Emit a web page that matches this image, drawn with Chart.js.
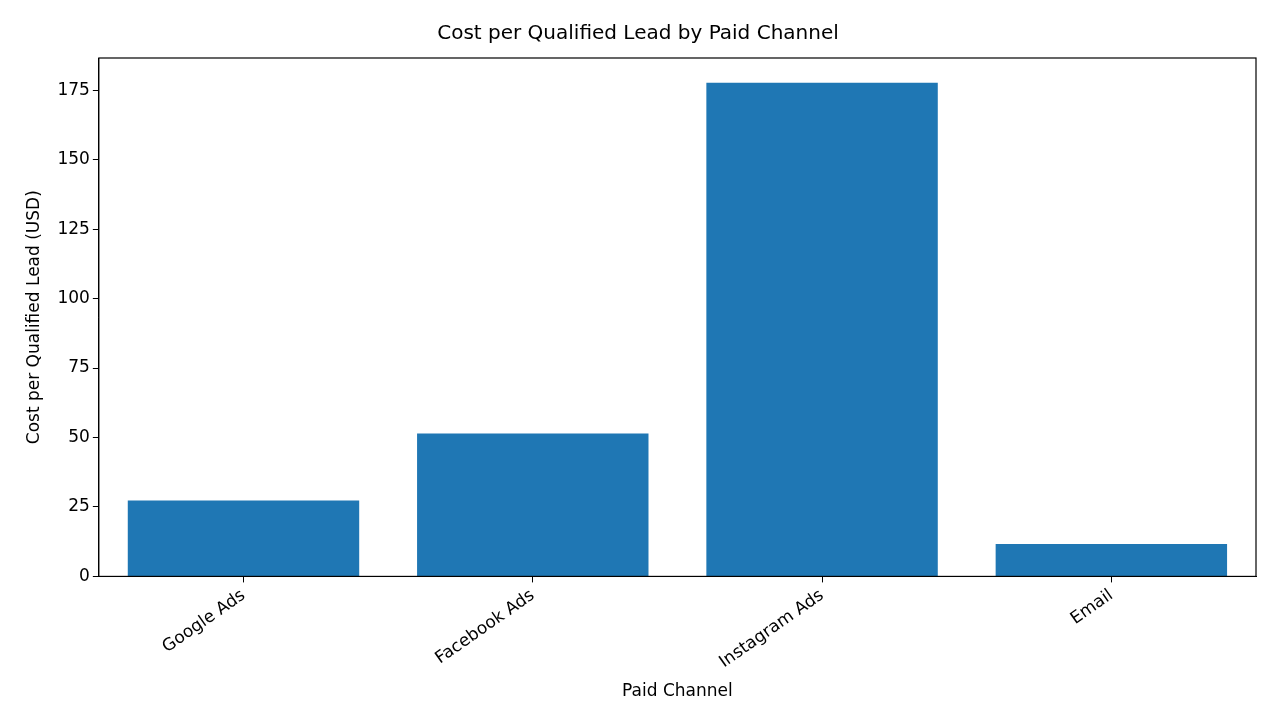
<!DOCTYPE html>
<html><head><meta charset="utf-8">
<script src="https://cdn.jsdelivr.net/npm/chart.js@4"></script>
<style>html,body{margin:0;padding:0;background:#fff}#w{width:1280px;height:720px}</style>
</head><body><div id="w"><canvas id="c" width="1280" height="720"></canvas></div>
<script>
const categories = ["Google Ads", "Facebook Ads", "Instagram Ads", "Email"];
const costPerLead = [27.3, 51.4, 177.7, 11.7];
const yTicks = [0, 25, 50, 75, 100, 125, 150, 175];

const frame = {id:'frame', afterDraw(ch){const a=ch.chartArea,c=ch.ctx;c.save();c.strokeStyle='#000';c.lineWidth=1.2;c.strokeRect(a.left,a.top,a.right-a.left,a.bottom-a.top);c.restore();}};
const font = {family:'DejaVu Sans', size:17};
new Chart(document.getElementById('c'), {
  type:'bar',
  data:{labels:categories, datasets:[{data:costPerLead, backgroundColor:'#1f77b4', borderWidth:0, barPercentage:0.8, categoryPercentage:1.0}]},
  options:{
    responsive:false, animation:false, devicePixelRatio:1,
    layout:{padding:{top:10,right:24,left:20,bottom:14}},
    plugins:{legend:{display:false}, tooltip:{enabled:false},
      title:{display:true,text:'Cost per Qualified Lead by Paid Channel',color:'#000',font:{family:'DejaVu Sans',size:20,weight:'normal'},padding:{top:12,bottom:12}}},
    scales:{
      x:{grid:{display:true,offset:false,drawOnChartArea:false,tickLength:6,color:'#000'},border:{color:'#000'},
         ticks:{color:'#000',font,minRotation:35,maxRotation:35},
         title:{display:true,text:'Paid Channel',color:'#000',font,padding:{top:6}}},
      y:{min:0,max:186.6,afterBuildTicks(ax){ax.ticks=yTicks.map(v=>({value:v}));},
         grid:{display:true,drawOnChartArea:false,tickLength:6,color:'#000'},border:{color:'#000'},
         ticks:{color:'#000',font},
         title:{display:true,text:'Cost per Qualified Lead (USD)',color:'#000',font,padding:{bottom:10}}}
    }
  },
  plugins:[frame]
});
</script></body></html>
